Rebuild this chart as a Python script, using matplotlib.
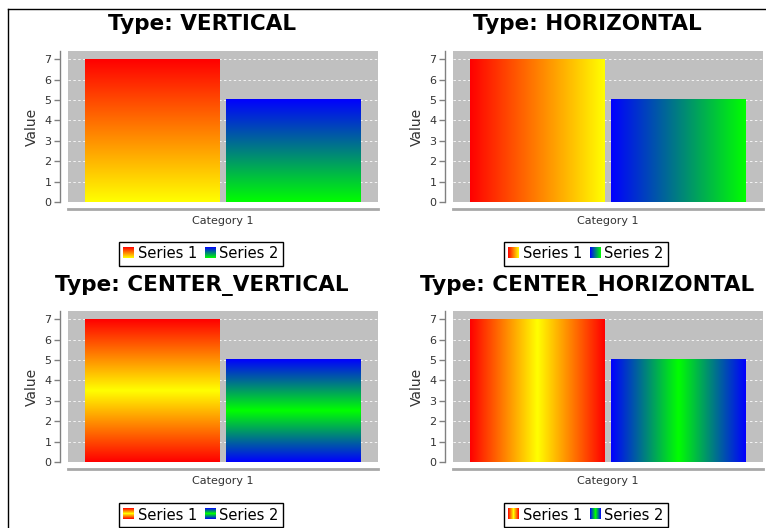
import numpy as np
import matplotlib
matplotlib.use("Agg")
import matplotlib.pyplot as plt
from matplotlib.image import BboxImage
from matplotlib.transforms import Bbox, TransformedBbox
from matplotlib.legend_handler import HandlerBase
from matplotlib.patches import Rectangle
from matplotlib.lines import Line2D

# Data #
category = "Category 1"
series_names = ["Series 1", "Series 2"]
series_values = [7, 5]
gradient_types = ["VERTICAL", "HORIZONTAL", "CENTER_VERTICAL", "CENTER_HORIZONTAL"]
y_ticks = [0, 1, 2, 3, 4, 5, 6, 7]
# (start colour, end colour) for each series
series_colors = [((1, 0, 0), (1, 1, 0)), ((0, 0, 1), (0, 1, 0))]

W, H = 766, 528


def gradient(c1, c2, kind, n=256):
    t = np.linspace(0, 1, n)
    if kind.startswith("CENTER"):
        t = 1 - np.abs(2 * t - 1)
    c1 = np.array(c1, float)
    c2 = np.array(c2, float)
    cols = c1[None, :] * (1 - t[:, None]) + c2[None, :] * t[:, None]
    if kind.endswith("VERTICAL"):
        return cols[:, None, :]
    return cols[None, :, :]


class GradientHandler(HandlerBase):
    def __init__(self, grad):
        super().__init__()
        self.grad = grad

    def create_artists(self, legend, orig_handle, xdescent, ydescent,
                       width, height, fontsize, trans):
        bb = Bbox.from_bounds(-xdescent, -ydescent, width, height)
        img = BboxImage(TransformedBbox(bb, trans), interpolation="bilinear")
        img.set_data(self.grad)
        return [img]


fig = plt.figure(figsize=(W / 100, H / 100), dpi=100)

# pixel layout of each panel: plot left, plot top, title centre x, title y
panels = [
    (68, 51, 202, 24),
    (453, 51, 587, 24),
    (68, 311, 202, 285),
    (453, 311, 587, 285),
]
pw, ph = 310, 151

bar_w = 0.435
gap = 0.02
offsets = [-(bar_w + gap) / 2, (bar_w + gap) / 2]

for kind, (px, py, tx, ty) in zip(gradient_types, panels):
    ax = fig.add_axes([px / W, 1 - (py + ph) / H, pw / W, ph / H])
    ax.set_facecolor("#c0c0c0")

    handles = []
    hmap = {}
    for i, name in enumerate(series_names):
        bars = ax.bar([offsets[i]], [series_values[i]], width=bar_w,
                      color="none", edgecolor="none", zorder=3)
        grad = gradient(series_colors[i][0], series_colors[i][1], kind)
        for rect in bars:
            x0 = rect.get_x()
            ax.imshow(grad, extent=(x0, x0 + rect.get_width(), 0, rect.get_height()),
                      aspect="auto", interpolation="bilinear", zorder=2)
        h = Rectangle((0, 0), 1, 1, label=name)
        handles.append(h)
        hmap[h] = GradientHandler(grad)

    ax.set_xlim(-0.5, 0.5)
    ax.set_ylim(0, 7.4)
    ax.set_aspect("auto")
    ax.set_yticks(y_ticks)
    ax.set_xticks([0])
    ax.set_xticklabels([category])
    ax.yaxis.grid(True, color="#f4f4f4", linestyle=(0, (2.5, 2.5)), linewidth=0.7)
    ax.set_axisbelow(True)

    for s in ["top", "right"]:
        ax.spines[s].set_visible(False)
    ax.spines["left"].set_position(("outward", 6))
    ax.spines["left"].set_color("#808080")
    ax.spines["left"].set_linewidth(1)
    ax.spines["bottom"].set_position(("outward", 5))
    ax.spines["bottom"].set_color("#a8a8a8")
    ax.spines["bottom"].set_linewidth(2)

    ax.tick_params(axis="y", direction="out", length=4, width=1, color="#808080",
                   labelsize=8, labelcolor="#333333", pad=2)
    ax.tick_params(axis="x", length=0, labelsize=8, labelcolor="#333333", pad=5)
    ax.set_ylabel("Value", fontsize=10, color="#333333", labelpad=4)

    fig.text(tx / W, 1 - ty / H, "Type: " + kind, ha="center", va="center",
             fontsize=15.5, fontweight="bold")

    leg = ax.legend(handles=handles, handler_map=hmap, ncol=2, loc="center",
                    bbox_to_anchor=((tx - 1) / W, 1 - (ty + 230) / H),
                    bbox_transform=fig.transFigure, fontsize=10.5,
                    fancybox=False, framealpha=1, edgecolor="black",
                    handlelength=0.7, handleheight=0.7, handletextpad=0.3,
                    columnspacing=0.5, borderpad=0.3, borderaxespad=0)
    leg.get_frame().set_linewidth(1)

# outer border (top and left) #
fig.add_artist(Line2D([8 / W, 1], [1 - 9 / H, 1 - 9 / H], transform=fig.transFigure,
                      color="black", linewidth=1))
fig.add_artist(Line2D([8 / W, 8 / W], [0, 1 - 9 / H], transform=fig.transFigure,
                      color="black", linewidth=1))

fig.savefig("out.png", dpi=100)
